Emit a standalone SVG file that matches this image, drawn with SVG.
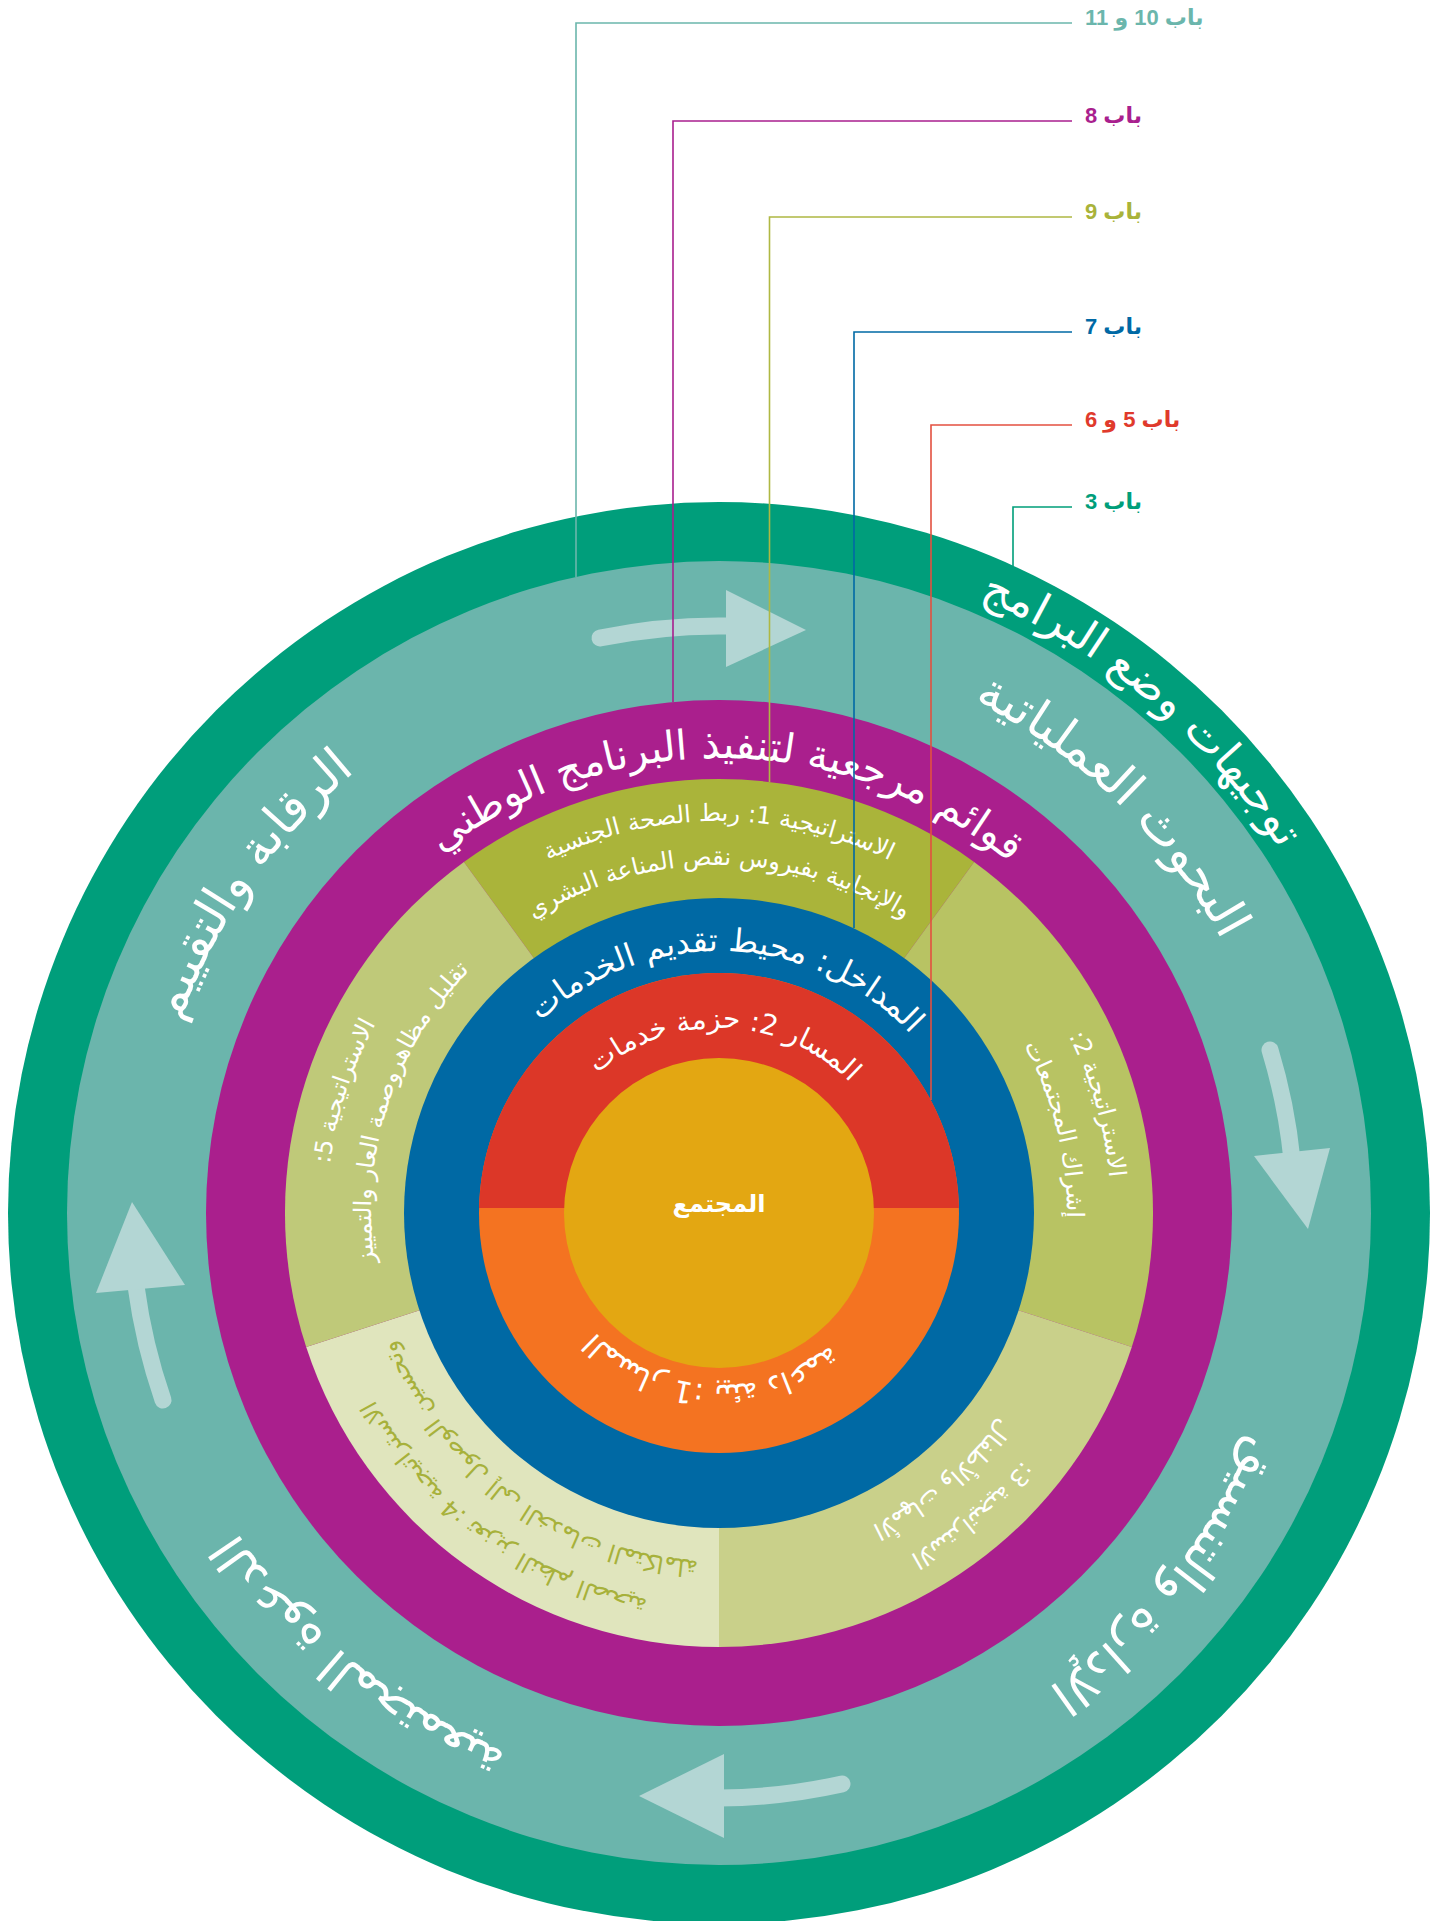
<svg xmlns="http://www.w3.org/2000/svg" xmlns:xlink="http://www.w3.org/1999/xlink" width="1442" height="1921" viewBox="0 0 1442 1921">
  <style>
    .ar { font-family: "DejaVu Sans", "Noto Sans", sans-serif; fill: #ffffff; direction: rtl; }
    .big { font-size: 50px; }
    .mid { font-size: 41px; }
    .strat { font-size: 24px; }
    .olive-txt { fill: #A7B13B; }
    .lbl { font-family: "Liberation Sans", "DejaVu Sans", sans-serif; font-weight: bold; font-size: 22px; direction: rtl; }
    .conn { fill: none; stroke-width: 1.6; }
    .shaft { fill: none; stroke: #B3D6D4; stroke-width: 17; stroke-linecap: round; }
    .head { fill: #B3D6D4; }
  </style>
  <defs>
    <!-- clockwise circles through the top at 50% of their length, centre (719,1213) -->
    <path id="c668" d="M719,1881 A668,668 0 0 1 719,545 A668,668 0 0 1 719,1881"/>
    <path id="c572" d="M719,1785 A572,572 0 0 1 719,641 A572,572 0 0 1 719,1785"/>
    <path id="c578" d="M719,1791 A578,578 0 0 1 719,635 A578,578 0 0 1 719,1791"/>
    <path id="c455" d="M719,1668 A455,455 0 0 1 719,758 A455,455 0 0 1 719,1668"/>
    <path id="c392" d="M719,1605 A392,392 0 0 1 719,821 A392,392 0 0 1 719,1605"/>
    <path id="c348" d="M719,1561 A348,348 0 0 1 719,865 A348,348 0 0 1 719,1561"/>
    <path id="c262" d="M719,1475 A262,262 0 0 1 719,951 A262,262 0 0 1 719,1475"/>
    <path id="c185" d="M719,1398 A185,185 0 0 1 719,1028 A185,185 0 0 1 719,1398"/>
    <path id="c172" d="M719,1385 A172,172 0 0 1 719,1041 A172,172 0 0 1 719,1385"/>
  </defs>

  <rect x="0" y="0" width="1442" height="1921" fill="#ffffff"/>

  <!-- outer ring: programme guidance -->
  <g id="ring-guidance">
    <circle cx="719" cy="1213" r="711" fill="#009E7B"/>
    <text class="ar" font-size="45" transform="rotate(40 719 1213)"><textPath href="#c668" startOffset="50%" text-anchor="middle">توجيهات وضع البرامج</textPath></text>
  </g>

  <!-- cycle ring -->
  <g id="ring-cycle">
    <circle cx="719" cy="1213" r="652" fill="#6BB5AC"/>
    <text class="ar big" transform="rotate(44 719 1213)"><textPath href="#c572" startOffset="50%" text-anchor="middle">البحوث العملياتية</textPath></text>
    <text class="ar big" transform="rotate(-55 719 1213)"><textPath href="#c572" startOffset="50%" text-anchor="middle">الرقابة والتقييم</textPath></text>
    <text class="ar big" transform="rotate(219 719 1213)"><textPath href="#c578" startOffset="50%" text-anchor="middle">الدعوة المجتمعية</textPath></text>
    <text class="ar big" transform="rotate(129 719 1213)"><textPath href="#c578" startOffset="50%" text-anchor="middle">الإدارة والتنسيق</textPath></text>
  </g>

  <!-- cycle arrows -->
  <g id="cycle-arrows">
    <path class="shaft" d="M600,638 A587,587 0 0 1 730,626"/>
    <polygon class="head" points="726,590 726,667 806,630"/>
    <path class="shaft" d="M1270,1050 A575,575 0 0 1 1292,1160"/>
    <polygon class="head" points="1254,1156 1330,1148 1308,1229"/>
    <path class="shaft" d="M842,1784 A585,585 0 0 1 720,1798"/>
    <polygon class="head" points="724,1754 724,1838 639,1796"/>
    <path class="shaft" d="M163,1400 A587,587 0 0 1 136,1286"/>
    <polygon class="head" points="96,1293 185,1285 132,1202"/>
  </g>

  <!-- reference lists ring -->
  <g id="ring-reference">
    <circle cx="719" cy="1213" r="513" fill="#AA1F8D"/>
    <text class="ar mid" transform="rotate(1 719 1213)"><textPath href="#c455" startOffset="50%" text-anchor="middle">قوائم مرجعية لتنفيذ البرنامج الوطني</textPath></text>
  </g>

  <!-- strategy sectors -->
  <g id="strategy-1">
    <path d="M719,1213 L463.9,861.9 A434,434 0 0 1 974.1,861.9 Z" fill="#AAB43A"/>
    <text class="ar strat"><textPath href="#c392" startOffset="50%" text-anchor="middle">الاستراتيجية 1: ربط الصحة الجنسية</textPath></text>
    <text class="ar strat"><textPath href="#c348" startOffset="50%" text-anchor="middle">والإنجابية بفيروس نقص المناعة البشري</textPath></text>
  </g>
  <g id="strategy-2">
    <path d="M719,1213 L974.1,861.9 A434,434 0 0 1 1131.8,1347.1 Z" fill="#B8C363"/>
    <text class="ar strat" transform="rotate(74 719 1213)"><textPath href="#c392" startOffset="50%" text-anchor="middle">الاستراتيجية 2:</textPath></text>
    <text class="ar strat" transform="rotate(76 719 1213)"><textPath href="#c348" startOffset="50%" text-anchor="middle">إشراك المجتمعات</textPath></text>
  </g>
  <g id="strategy-3">
    <path d="M719,1213 L1131.8,1347.1 A434,434 0 0 1 719,1647 Z" fill="#C9D08A"/>
    <text class="ar strat" transform="rotate(140 719 1213)"><textPath href="#c392" startOffset="50%" text-anchor="middle">الاستراتيجية 3:</textPath></text>
    <text class="ar strat" transform="rotate(140 719 1213)"><textPath href="#c348" startOffset="50%" text-anchor="middle">الأمهات والأطفال</textPath></text>
  </g>
  <g id="strategy-4">
    <path d="M719,1213 L719,1647 A434,434 0 0 1 306.2,1347.1 Z" fill="#E0E5BD"/>
    <text class="ar strat olive-txt" transform="rotate(216 719 1213)"><textPath href="#c392" startOffset="50%" text-anchor="middle">الاستراتيجية 4: تعزيز النظم الصحية</textPath></text>
    <text class="ar strat olive-txt" transform="rotate(216 719 1213)"><textPath href="#c348" startOffset="50%" text-anchor="middle">وتحسين الوصول إلى الخدمات المتكاملة</textPath></text>
  </g>
  <g id="strategy-5">
    <path d="M719,1213 L306.2,1347.1 A434,434 0 0 1 463.9,861.9 Z" fill="#BFC979"/>
    <text class="ar strat" transform="rotate(288 719 1213)"><textPath href="#c392" startOffset="50%" text-anchor="middle">الاستراتيجية 5:</textPath></text>
    <text class="ar strat" transform="rotate(288 719 1213)"><textPath href="#c348" startOffset="50%" text-anchor="middle">تقليل مظاهروصمة العار والتمييز</textPath></text>
  </g>

  <!-- intermediates ring -->
  <g id="ring-intermediates">
    <circle cx="719" cy="1213" r="315" fill="#0069A4"/>
    <text class="ar" font-size="32" transform="rotate(2 719 1213)"><textPath href="#c262" startOffset="50%" text-anchor="middle">المداخل: محيط تقديم الخدمات</textPath></text>
  </g>

  <!-- tracks -->
  <g id="tracks">
    <circle cx="719" cy="1213" r="240" fill="#F47321"/>
    <path d="M479.05,1208 A240,240 0 0 1 958.95,1208 Z" fill="#DC3728"/>
    <text class="ar" font-size="28" transform="rotate(2 719 1213)"><textPath href="#c185" startOffset="50%" text-anchor="middle">المسار 2: حزمة خدمات</textPath></text>
    <text class="ar" font-size="30" transform="rotate(183 719 1213)"><textPath href="#c172" startOffset="50%" text-anchor="middle">المسار 1: بيئة داعمة</textPath></text>
  </g>

  <!-- centre -->
  <g id="community">
    <circle cx="719" cy="1213" r="155" fill="#E3A712"/>
    <text class="ar" x="719" y="1212" font-size="24" font-weight="bold" text-anchor="middle">المجتمع</text>
  </g>

  <!-- chapter call-outs -->
  <g id="connectors">
    <polyline class="conn" stroke="#6BB6AC" points="1072,23 576,23 576,577"/>
    <polyline class="conn" stroke="#A91F8E" points="1072,121 673,121 673,702"/>
    <polyline class="conn" stroke="#AFB843" points="1072,217 769.5,217 769.5,782"/>
    <polyline class="conn" stroke="#0069A5" points="1072,332 854,332 854,928"/>
    <polyline class="conn" stroke="#E35040" points="1072,425 931,425 931,1100"/>
    <polyline class="conn" stroke="#009E7A" points="1072,507 1013,507 1013,566"/>
  </g>

  <g id="chapter-labels" text-anchor="end">
    <text class="lbl" x="1085" y="25" fill="#6BB6AC">باب 10 و 11</text>
    <text class="lbl" x="1085" y="123" fill="#A91F8E">باب 8</text>
    <text class="lbl" x="1085" y="219" fill="#A9B33A">باب 9</text>
    <text class="lbl" x="1085" y="334" fill="#0069A5">باب 7</text>
    <text class="lbl" x="1085" y="427" fill="#E03A2C">باب 5 و 6</text>
    <text class="lbl" x="1085" y="509" fill="#009E7A">باب 3</text>
  </g>
</svg>
